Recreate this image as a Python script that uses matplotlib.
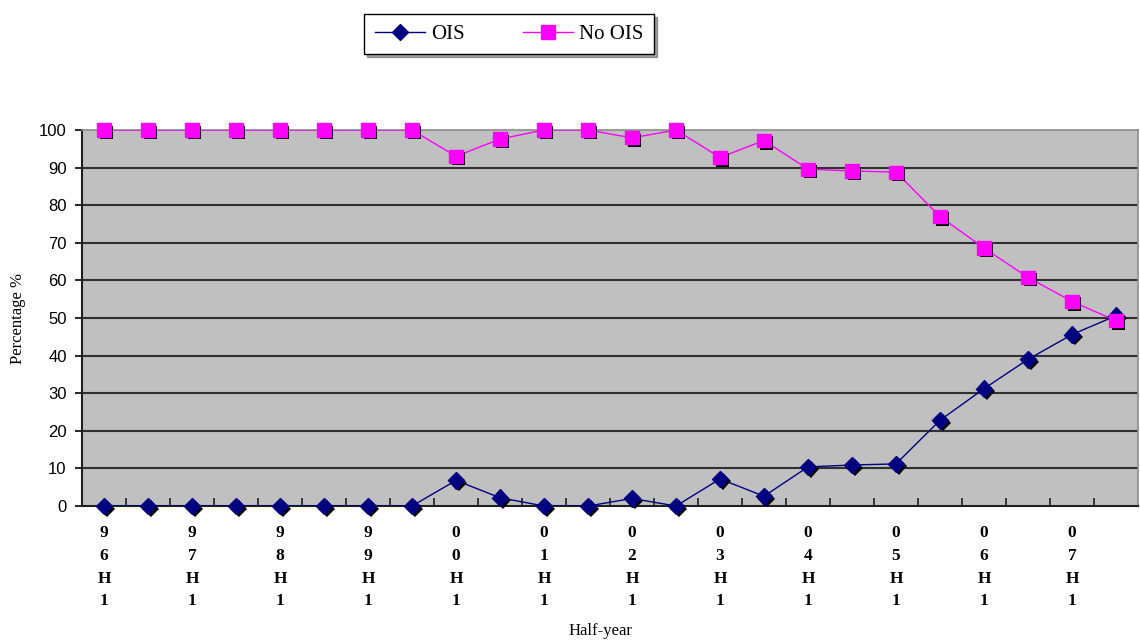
import matplotlib
matplotlib.use("Agg")
import matplotlib.pyplot as plt
import matplotlib.patheffects as pe

categories = ["96H1", "96H2", "97H1", "97H2", "98H1", "98H2", "99H1", "99H2",
              "00H1", "00H2", "01H1", "01H2", "02H1", "02H2", "03H1", "03H2",
              "04H1", "04H2", "05H1", "05H2", "06H1", "06H2", "07H1", "07H2"]
ois = [0, 0, 0, 0, 0, 0, 0, 0, 6.8, 2.2, 0, 0, 2.0, 0, 7.2, 2.6,
       10.4, 10.9, 11.2, 22.8, 31.2, 39.0, 45.6, 50.6]
no_ois = [100, 100, 100, 100, 100, 100, 100, 100, 93.0, 97.6, 100, 100, 97.9, 100, 92.7, 97.2,
          89.6, 89.1, 88.8, 77.0, 68.6, 60.8, 54.4, 49.3]
y_ticks = [0, 10, 20, 30, 40, 50, 60, 70, 80, 90, 100]

serif = ["Liberation Serif", "DejaVu Serif"]
sans = ["Liberation Sans", "DejaVu Sans"]

fig = plt.figure(figsize=(11.4, 6.44), dpi=100)
ax = fig.add_axes([82/1140, 1-506/644, (1138-82)/1140, (506-130)/644])
ax.set_facecolor("#C0C0C0")

x = list(range(len(categories)))
shadow = [pe.SimplePatchShadow(offset=(1.8, -1.8), shadow_rgbFace="black", alpha=1.0), pe.Normal()]

ax.plot(x, ois, color="#000080", lw=1.0, zorder=3)
ax.plot(x, no_ois, color="#FF00FF", lw=1.0, zorder=3)
ax.plot(x, ois, ls="none", marker="D", ms=8.5, mfc="#000080", mec="#000080", zorder=4,
        path_effects=shadow, clip_on=False)
ax.plot(x, no_ois, ls="none", marker="s", ms=9.5, mfc="#FF00FF", mec="#FF00FF", zorder=4,
        path_effects=shadow, clip_on=False)

ax.set_xlim(-0.5, len(categories) - 0.5)
ax.set_ylim(0, 100)
ax.set_yticks(y_ticks)
ax.set_yticklabels([str(v) for v in y_ticks], fontfamily=sans, fontsize=12)
for v in y_ticks[1:-1]:
    ax.axhline(v, color="#303030", lw=1.5, zorder=1)

# category boundaries as major ticks (no labels)
ax.set_xticks([i - 0.5 for i in range(1, len(categories))])
ax.set_xticklabels([])
ax.tick_params(axis="x", which="major", direction="in", length=6, width=1.2, color="#202020")
# labels on every other category
lab_pos = x[::2]
lab_txt = ["\n".join(list(c)) for c in categories[::2]]
ax.set_xticks(lab_pos, minor=True)
ax.set_xticklabels(lab_txt, minor=True, fontfamily=serif, fontsize=12.5, fontweight="bold",
                   linespacing=1.55, va="top")
ax.tick_params(axis="x", which="minor", length=0, pad=14)
ax.tick_params(axis="y", direction="out", length=5, width=1.2, pad=6)

for s in ["top", "right"]:
    ax.spines[s].set_color("#8C8C8C")
    ax.spines[s].set_linewidth(1.2)
for s in ["left", "bottom"]:
    ax.spines[s].set_color("#202020")
    ax.spines[s].set_linewidth(1.5)

ax.set_ylabel("Percentage %", fontfamily=serif, fontsize=12, va="center")
ax.yaxis.set_label_coords((18-82)/(1138-82), 0.5)
ax.set_xlabel("Half-year", fontfamily=serif, fontsize=12, va="center")
ax.xaxis.set_label_coords((600-82)/(1138-82), (506-631)/(506-130))

h1, = ax.plot([], [], color="#000080", lw=1.0, marker="D", ms=8.5, mfc="#000080", mec="#000080")
h2, = ax.plot([], [], color="#FF00FF", lw=1.0, marker="s", ms=9.5, mfc="#FF00FF", mec="#FF00FF")
leg = fig.legend([h1, h2], ["OIS", "No OIS"], loc="center", bbox_to_anchor=(509/1140, 1-34/644),
                 ncol=2, frameon=True, fancybox=False, shadow=True, edgecolor="black",
                 prop={"family": serif, "size": 15}, handlelength=2.4, columnspacing=2.8,
                 borderpad=0.5, handletextpad=0.3)
leg.get_frame().set_linewidth(1.0)

fig.savefig("out.png", dpi=100, facecolor="white")
